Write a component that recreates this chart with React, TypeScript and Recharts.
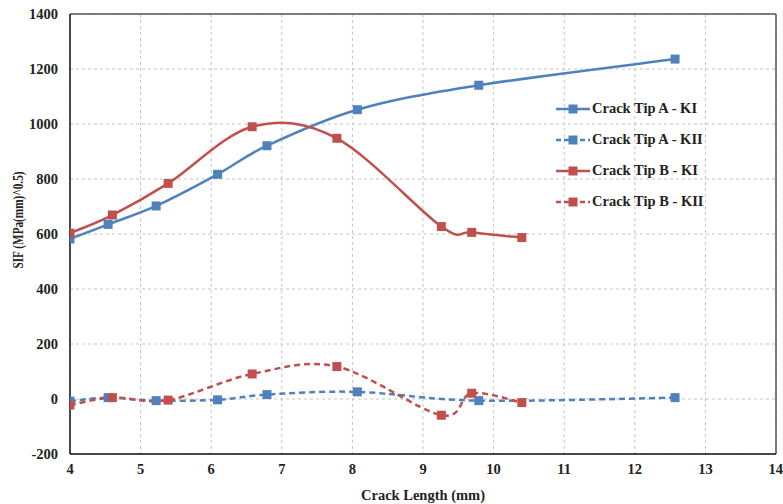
import React from 'react';
import { LineChart, Line, XAxis, YAxis, CartesianGrid, ReferenceLine, Label } from 'recharts';

const tipAKIx = [4.0, 4.54, 5.22, 6.09, 6.79, 8.07, 9.79, 12.57];
const tipAKIy = [582, 635, 702, 817, 921, 1052, 1141, 1236];
const tipAKIIx = [4.0, 4.54, 5.22, 6.09, 6.79, 8.07, 9.79, 12.57];
const tipAKIIy = [-8, 5, -6, -3, 16, 26, -6, 5];
const tipBKIx = [4.0, 4.6, 5.39, 6.58, 7.78, 9.26, 9.69, 10.4];
const tipBKIy = [603, 669, 784, 990, 948, 627, 606, 587];
const tipBKIIx = [4.0, 4.6, 5.39, 6.58, 7.78, 9.26, 9.69, 10.4];
const tipBKIIy = [-22, 5, -4, 91, 118, -59, 21, -13];

const xTicks = [4, 5, 6, 7, 8, 9, 10, 11, 12, 13, 14];
const yTicks = [-200, 0, 200, 400, 600, 800, 1000, 1200, 1400];

const BLUE = '#4F81BD';
const RED = '#C0504D';
const FONT = '"Liberation Serif", "Times New Roman", serif';

const toPts = (xs: number[], ys: number[]) => xs.map((x, i) => ({ x, y: ys[i] }));

const seriesList = [
  { name: 'Crack Tip A - KI', data: toPts(tipAKIx, tipAKIy), color: BLUE, dash: undefined as string | undefined },
  { name: 'Crack Tip A - KII', data: toPts(tipAKIIx, tipAKIIy), color: BLUE, dash: '6 4' },
  { name: 'Crack Tip B - KI', data: toPts(tipBKIx, tipBKIy), color: RED, dash: undefined as string | undefined },
  { name: 'Crack Tip B - KII', data: toPts(tipBKIIx, tipBKIIy), color: RED, dash: '6 4' },
];

// Excel-like smoothing (Catmull-Rom / cardinal tension 0)
function excelCurve(context: any) {
  let pts: number[][] = [];
  return {
    areaStart() {},
    areaEnd() {},
    lineStart() {
      pts = [];
    },
    point(x: number, y: number) {
      pts.push([+x, +y]);
    },
    lineEnd() {
      const n = pts.length;
      if (!n) return;
      context.moveTo(pts[0][0], pts[0][1]);
      for (let i = 0; i < n - 1; i++) {
        const p0 = pts[Math.max(i - 1, 0)];
        const p1 = pts[i];
        const p2 = pts[i + 1];
        const p3 = pts[Math.min(i + 2, n - 1)];
        const c1x = p1[0] + (p2[0] - p0[0]) / 6;
        const c1y = p1[1] + (p2[1] - p0[1]) / 6;
        const c2x = p2[0] - (p3[0] - p1[0]) / 6;
        const c2y = p2[1] - (p3[1] - p1[1]) / 6;
        context.bezierCurveTo(c1x, c1y, c2x, c2y, p2[0], p2[1]);
      }
    },
  };
}

const makeDot = (color: string) => (props: any) => {
  const { cx, cy, index } = props;
  if (cx == null || cy == null) return <g key={index} />;
  return <rect key={index} x={cx - 4.5} y={cy - 4.5} width={9} height={9} fill={color} />;
};

const YTitle = () => (
  <text
    x={0}
    y={0}
    transform="translate(23,220) rotate(-90)"
    textAnchor="middle"
    fontFamily={FONT}
    fontWeight="bold"
    fontSize={15}
    fill="#222"
    textLength={97}
    lengthAdjust="spacingAndGlyphs"
  >
    SIF (MPa(mm)^0.5)
  </text>
);

const LegendBox = () => (
  <div
    style={{
      position: 'absolute',
      left: 556,
      top: 93,
      fontFamily: FONT,
      fontWeight: 'bold',
      fontSize: 14.5,
      color: '#222',
    }}
  >
    {seriesList.map((s) => (
      <div key={s.name} style={{ display: 'flex', alignItems: 'center', height: 31 }}>
        <svg width={35} height={12} style={{ marginRight: 1 }}>
          <line x1={0} y1={6} x2={34} y2={6} stroke={s.color} strokeWidth={2.5} strokeDasharray={s.dash ? '5 3' : undefined} />
          <rect x={12.5} y={1.5} width={9} height={9} fill={s.color} />
        </svg>
        <span style={{ whiteSpace: 'nowrap' }}>{s.name}</span>
      </div>
    ))}
  </div>
);

export default function App() {
  const tickStyle = { fontFamily: FONT, fontWeight: 'bold' as const, fontSize: 14.5, fill: '#222' };
  return (
    <div style={{ position: 'absolute', left: 0, top: 0, width: 783, height: 504, background: '#fff' }}>
      <LineChart width={783} height={504} margin={{ top: 14, right: 7, left: 8, bottom: 0 }}>
        <CartesianGrid stroke="#c4c4c4" strokeDasharray="3 3" />
        <XAxis
          type="number"
          dataKey="x"
          domain={[4, 14]}
          ticks={xTicks}
          allowDataOverflow
          height={50}
          tickSize={0}
          tickMargin={10}
          tick={tickStyle}
          axisLine={{ stroke: '#111', strokeWidth: 1.5 }}
          tickLine={false}
        >
          <Label
            value="Crack Length (mm)"
            position="insideBottom"
            offset={4}
            style={{ fontFamily: FONT, fontWeight: 'bold', fontSize: 14.5, fill: '#222' }}
          />
        </XAxis>
        <YAxis
          type="number"
          dataKey="y"
          domain={[-200, 1400]}
          ticks={yTicks}
          allowDataOverflow
          width={62}
          tickSize={0}
          tickMargin={12}
          tick={tickStyle}
          axisLine={{ stroke: '#111', strokeWidth: 1.5 }}
          tickLine={false}
        >
          <Label content={YTitle} />
        </YAxis>
        <ReferenceLine y={1400} stroke="#555" strokeWidth={1.5} />
        <ReferenceLine x={14} stroke="#555" strokeWidth={1.5} />
        {seriesList.map((s) => (
          <Line
            key={s.name}
            name={s.name}
            data={s.data}
            dataKey="y"
            type={excelCurve as any}
            stroke={s.color}
            strokeWidth={2.5}
            strokeDasharray={s.dash}
            dot={makeDot(s.color)}
            activeDot={false}
            isAnimationActive={false}
          />
        ))}
      </LineChart>
      <LegendBox />
    </div>
  );
}
